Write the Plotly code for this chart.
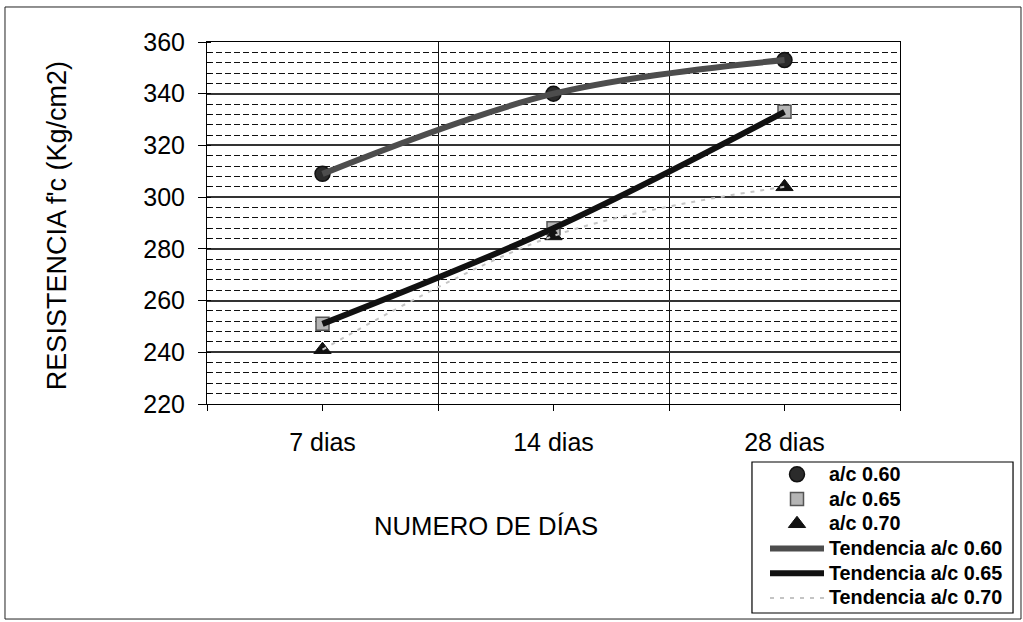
import plotly.graph_objects as go

# Compressive strength (kg/cm2) by curing age for three water/cement ratios
dias = ["7 dias", "14 dias", "28 dias"]
ac_060 = [309, 340, 353]
ac_065 = [251, 288, 333]
ac_070 = [241, 285, 304]

y_ticks = [220, 240, 260, 280, 300, 320, 340, 360]
x_pos = list(range(len(dias)))
x_bounds = [-0.5, 0.5, 1.5, 2.5]

FONT = "Arial, Liberation Sans, sans-serif"


def legend_label(text):
    # legend rows stay compact while the label glyphs are drawn a bit larger
    return f'<span style="font-size:19.8px">{text}</span>'


fig = go.Figure()

# measured points
fig.add_trace(go.Scatter(
    x=x_pos, y=ac_060, mode="markers", name=legend_label("a/c 0.60"),
    marker=dict(symbol="circle", size=15, color="#2b2b2b",
                line=dict(color="#111111", width=1.5))))
fig.add_trace(go.Scatter(
    x=x_pos, y=ac_065, mode="markers", name=legend_label("a/c 0.65"),
    marker=dict(symbol="square", size=13, color="#b5b5b5",
                line=dict(color="#555555", width=1.5))))
fig.add_trace(go.Scatter(
    x=x_pos, y=ac_070, mode="markers", name=legend_label("a/c 0.70"),
    marker=dict(symbol="triangle-up", size=15, color="#111111",
                line=dict(color="#111111", width=1))))

# smoothed trend lines through the same values
fig.add_trace(go.Scatter(
    x=x_pos, y=ac_060, mode="lines", name=legend_label("Tendencia a/c 0.60"),
    line=dict(color="#4d4d4d", width=6, shape="spline", smoothing=1)))
fig.add_trace(go.Scatter(
    x=x_pos, y=ac_065, mode="lines", name=legend_label("Tendencia a/c 0.65"),
    line=dict(color="#111111", width=6, shape="spline", smoothing=1)))
fig.add_trace(go.Scatter(
    x=x_pos, y=ac_070, mode="lines", name=legend_label("Tendencia a/c 0.70"),
    line=dict(color="#c4c4c4", width=2, shape="spline", smoothing=1,
              dash="4px,6px")))

fig.update_layout(
    width=1023, height=622,
    margin=dict(l=207, r=123, t=42, b=218, autoexpand=False),
    paper_bgcolor="white", plot_bgcolor="white",
    font=dict(family=FONT, size=25, color="black"),
    showlegend=True,
    legend=dict(
        x=0.8052, y=-0.1464, xanchor="left", yanchor="top",
        bgcolor="rgba(0,0,0,0)", borderwidth=0,
        font=dict(family=FONT, size=16.7, color="black", weight="bold"),
        itemwidth=54, tracegroupgap=0,
    ),
    xaxis=dict(
        range=[-0.5, 2.5], tickmode="array", tickvals=x_pos, ticktext=dias,
        showgrid=False, zeroline=False,
        showline=True, linecolor="black", linewidth=1, mirror=True,
        ticks="outside", ticklen=6, tickcolor="black",
        ticklabelstandoff=10,
        tickfont=dict(family=FONT, size=25),
        minor=dict(tickmode="array", tickvals=x_bounds, ticks="outside",
                   ticklen=6, tickcolor="black", showgrid=True,
                   gridcolor="#111111", gridwidth=1),
    ),
    yaxis=dict(
        range=[220, 360], tickmode="array", tickvals=y_ticks,
        showgrid=True, gridcolor="#333333", gridwidth=1.8,
        zeroline=False,
        showline=True, linecolor="black", linewidth=1, mirror=True,
        ticks="outside", ticklen=8, tickcolor="black",
        ticklabelstandoff=8,
        tickfont=dict(family=FONT, size=25),
        minor=dict(dtick=4, tick0=220, showgrid=True, gridcolor="#111111",
                   gridwidth=1, griddash="6px,3px",
                   ticks="inside", ticklen=4, tickcolor="black"),
    ),
    annotations=[
        dict(text="RESISTENCIA f'c (Kg/cm2)", textangle=-90,
             xref="paper", yref="paper", x=-0.2165, y=0.494,
             xanchor="center", yanchor="middle",
             showarrow=False, font=dict(family=FONT, size=27)),
        dict(text="NUMERO DE DÍAS",
             xref="paper", yref="paper", x=0.403, y=-0.337,
             xanchor="center", yanchor="middle",
             showarrow=False, font=dict(family=FONT, size=25.7)),
    ],
    shapes=[
        # chart frame
        dict(type="rect", xref="paper", yref="paper",
             x0=-0.2915, x1=1.1746, y0=-0.594, y1=1.0967,
             line=dict(color="#222222", width=1), layer="below"),
        # legend frame
        dict(type="rect", xref="paper", yref="paper",
             x0=0.7864, x1=1.1631, y0=-0.5773, y1=-0.1602,
             line=dict(color="black", width=1.2), fillcolor="white",
             layer="below"),
    ],
)

fig.write_html("out.html")
